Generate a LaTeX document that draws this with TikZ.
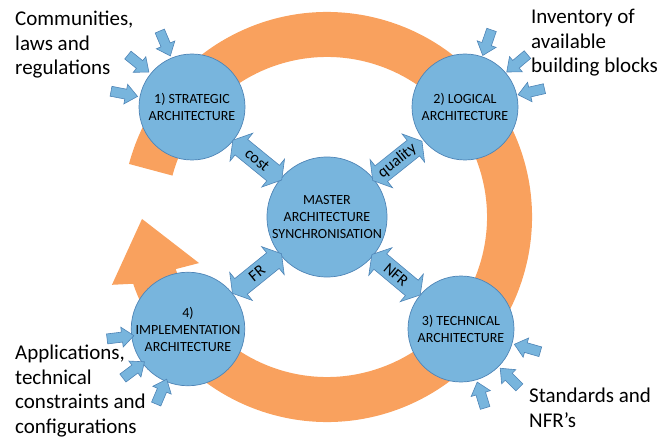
\documentclass[tikz,border=0pt]{standalone}
\usepackage{fontspec}
\setmainfont{Carlito}
\usetikzlibrary{calc}
\definecolor{ringor}{RGB}{249,161,94}
\definecolor{bluefill}{RGB}{120,181,221}
\definecolor{blueline}{RGB}{78,132,182}
\tikzset{
  circ/.style={circle, fill=bluefill, draw=blueline, line width=0.7pt, minimum size=106pt, inner sep=0pt, align=center, font=\fontsize{14}{17}\selectfont},
  blockarrow/.style={fill=bluefill, draw=blueline, line width=0.6pt},
  arrlabel/.style={font=\fontsize{16}{19}\selectfont, inner sep=0pt},
  sidelabel/.style={font=\fontsize{21}{24.5}\selectfont, align=left, anchor=base west, inner sep=0pt}
}
% small input arrow: name, centre, direction
\newcommand\myinarrow[3]{%
  \coordinate (#1) at #2;
  \path[blockarrow, shift={(#1)}, rotate=#3]
    (-13.5,-5) -- (1.5,-5) -- (1.5,-10) -- (13.5,0) -- (1.5,10) -- (1.5,5) -- (-13.5,5) -- cycle;}
% double arrow: name, centre, direction
\newcommand\mydoublearrow[3]{%
  \coordinate (#1) at #2;
  \path[blockarrow, shift={(#1)}, rotate=#3]
    (-31.5,0) -- (-20.5,18) -- (-20.5,10) -- (20.5,10) -- (20.5,18) -- (31.5,0)
    -- (20.5,-18) -- (20.5,-10) -- (-20.5,-10) -- (-20.5,-18) -- cycle;}
\begin{document}
\begin{tikzpicture}[x=1pt,y=1pt]
\useasboundingbox (0,0) rectangle (672,440);
\coordinate (O) at (327,223);
% orange circular arrow
\fill[ringor] ($(O)+(165:205)$) arc[start angle=165, end angle=-161, radius=205]
  -- ($(O)+(197.5:225.5)$) -- ($(O)+(180.6:185)$) -- ($(O)+(199.8:136)$)
  -- ($(O)+(-161:160)$) arc[start angle=-161, end angle=165, radius=160] -- cycle;
% circles
\node[circ] (C1) at (192,333) {1) STRATEGIC\\ARCHITECTURE};
\node[circ] (C2) at (465,333) {2) LOGICAL\\ARCHITECTURE};
\node[circ] (C3) at (461,111) {3) TECHNICAL\\ARCHITECTURE};
\node[circ] (C4) at (188,111) {4)\\IMPLEMENTATION\\ARCHITECTURE};
\node[circ, minimum size=120pt] (M) at (O) {MASTER\\ARCHITECTURE\\SYNCHRONISATION};
% double arrows
\mydoublearrow{acost}{($(O)+(140.8:90)$)}{140.8}
\mydoublearrow{aqual}{($(O)+(38.6:90)$)}{38.6}
\mydoublearrow{afr}{($(O)+(218.9:90)$)}{218.9}
\mydoublearrow{anfr}{($(O)+(-39.9:90)$)}{-39.9}
\node[arrlabel, rotate=-39.2] (lcost) at (acost) {cost};
\node[arrlabel, rotate=38.6] (lqual) at (aqual) {quality};
\node[arrlabel, rotate=38.9] (lfr) at (afr) {FR};
\node[arrlabel, rotate=-39.9] (lnfr) at (anfr) {NFR};
% input arrows
\myinarrow{i1a}{($(C1)+(113:69)$)}{293}
\myinarrow{i1b}{($(C1)+(141:69)$)}{321}
\myinarrow{i1c}{($(C1)+(169:69)$)}{349}
\myinarrow{i2a}{($(C2)+(71:68)$)}{251}
\myinarrow{i2b}{($(C2)+(40:68)$)}{220}
\myinarrow{i2c}{($(C2)+(13:68)$)}{193}
\myinarrow{i3a}{($(C3)+(-16:69)$)}{164}
\myinarrow{i3b}{($(C3)+(-45:69)$)}{135}
\myinarrow{i3c}{($(C3)+(-73:69)$)}{107}
\myinarrow{i4a}{($(C4)+(187:68)$)}{7}
\myinarrow{i4b}{($(C4)+(217:68)$)}{37}
\myinarrow{i4c}{($(C4)+(247:68)$)}{67}
% side labels (anchor = baseline of last line)
\node[sidelabel] (tl) at (15,365) {Communities,\\laws and\\regulations};
\node[sidelabel] (tr) at (531,367) {Inventory of\\available\\building blocks};
\node[sidelabel] (bl) at (15,7) {Applications,\\technical\\constraints and\\configurations};
\node[sidelabel] (br) at (529,13) {Standards and\\NFR’s};
\end{tikzpicture}
\end{document}
